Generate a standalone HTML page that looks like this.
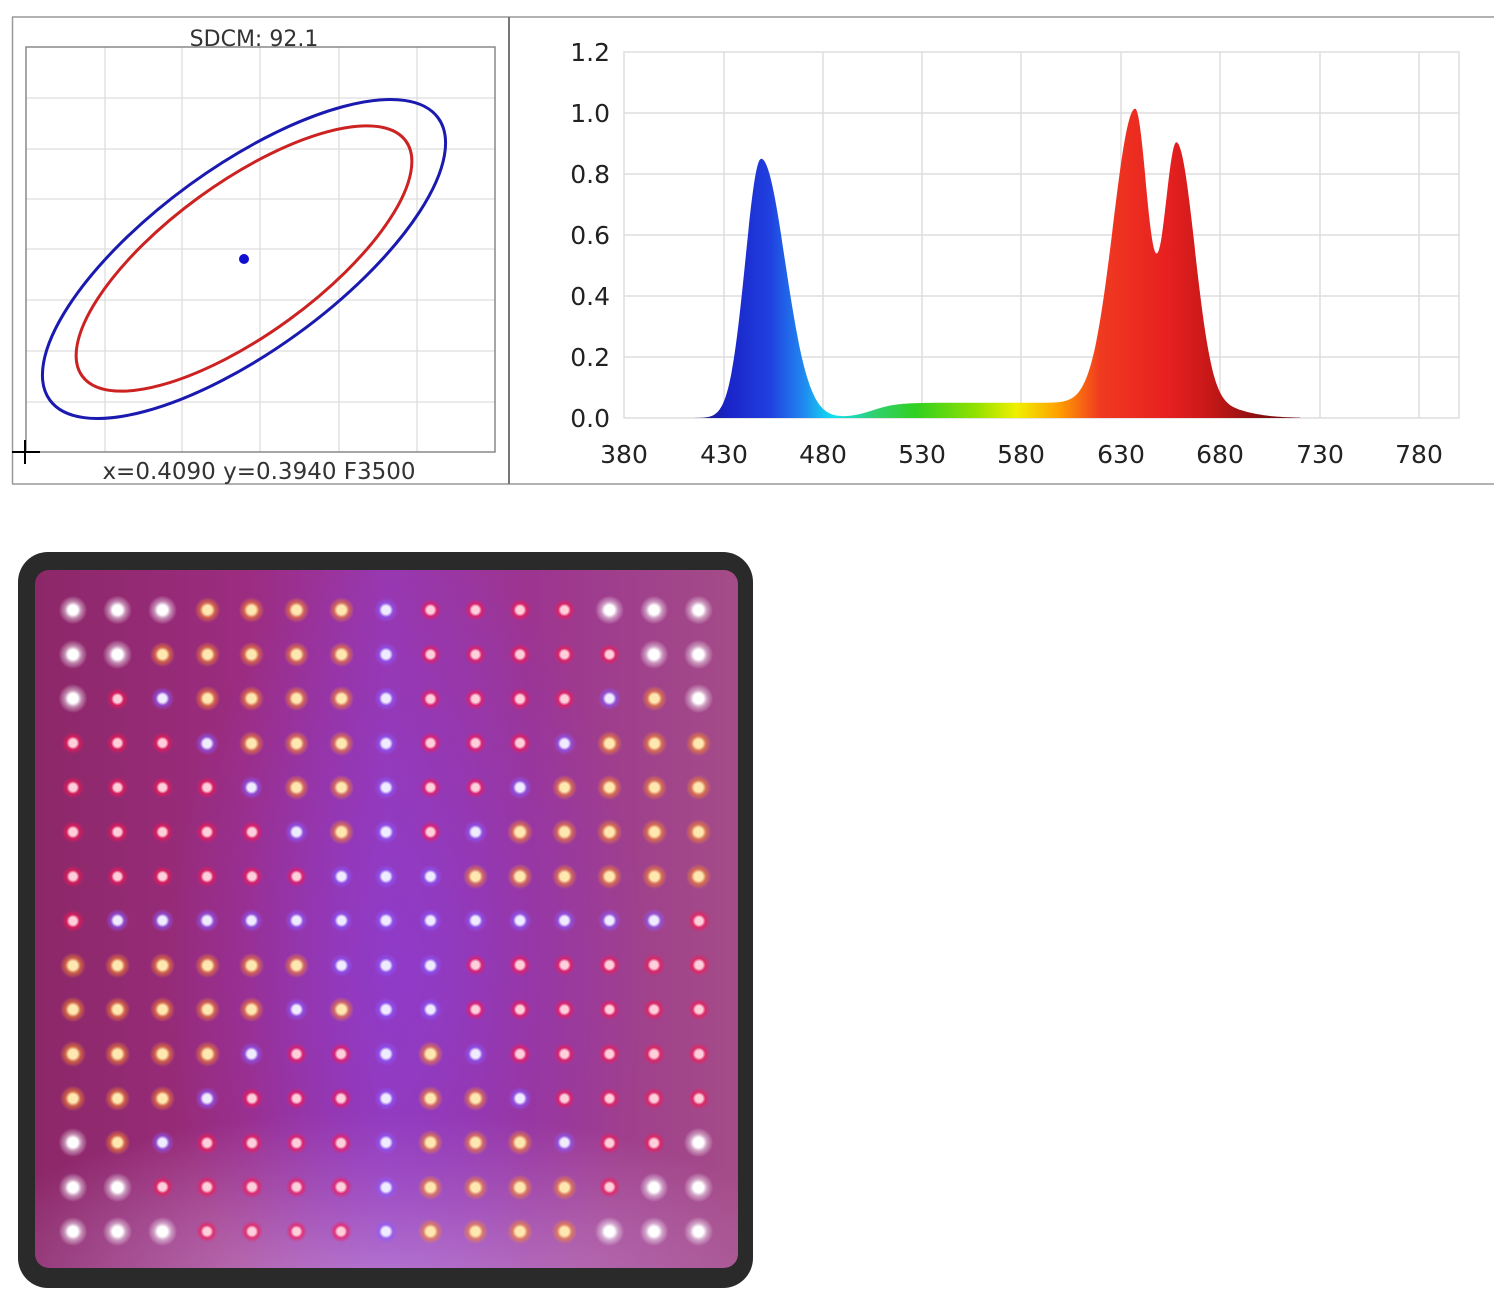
<!DOCTYPE html>
<html><head><meta charset="utf-8"><style>
html,body{margin:0;padding:0;background:#fff;}
body{width:1506px;height:1300px;position:relative;overflow:hidden;font-family:"DejaVu Sans","Liberation Sans",sans-serif;}
#panel{position:absolute;left:18px;top:552px;width:735px;height:736px;background:#2a2a2a;border-radius:30px;}
#inner{position:absolute;left:35px;top:570px;width:703px;height:698px;border-radius:14px;overflow:hidden;
background:
radial-gradient(ellipse 240px 420px at 370px 400px, rgba(140,60,210,0.75), rgba(140,60,210,0) 100%),
radial-gradient(ellipse 450px 180px at 350px 720px, rgba(210,170,225,0.7), rgba(210,170,225,0) 100%),
linear-gradient(90deg,#8c2868 0%,#9c2c80 30%,#9838b0 50%,#9c3490 70%,#a44c88 100%);}
.d{position:absolute;border-radius:50%;}
</style></head><body>
<svg width="1506" height="500" style="position:absolute;left:0;top:0">
<line x1="12" y1="17" x2="1494" y2="17" stroke="#999" stroke-width="1.5"/>
<line x1="12" y1="484" x2="1494" y2="484" stroke="#999" stroke-width="1.5"/>
<line x1="12.5" y1="17" x2="12.5" y2="484" stroke="#999" stroke-width="1.5"/>
<line x1="509" y1="17" x2="509" y2="484" stroke="#777" stroke-width="2"/>
<g stroke="#ddd" stroke-width="1.3">
<line x1="105" y1="47" x2="105" y2="452"/><line x1="182" y1="47" x2="182" y2="452"/><line x1="260" y1="47" x2="260" y2="452"/><line x1="339" y1="47" x2="339" y2="452"/><line x1="417" y1="47" x2="417" y2="452"/>
<line x1="26" y1="98" x2="495" y2="98"/><line x1="26" y1="149" x2="495" y2="149"/><line x1="26" y1="199" x2="495" y2="199"/><line x1="26" y1="249" x2="495" y2="249"/><line x1="26" y1="300" x2="495" y2="300"/><line x1="26" y1="351" x2="495" y2="351"/><line x1="26" y1="402" x2="495" y2="402"/>
</g>
<rect x="26" y="47" width="469" height="405" fill="none" stroke="#888" stroke-width="1.5"/>
<text x="254" y="46" font-size="22" text-anchor="middle" fill="#333">SDCM:  92.1</text>
<text x="259" y="479" font-size="23" text-anchor="middle" fill="#333">x=0.4090 y=0.3940 F3500</text>
<ellipse cx="244" cy="259" rx="240" ry="92" transform="rotate(-36 244 259)" fill="none" stroke="#1a1ab0" stroke-width="3"/>
<ellipse cx="244" cy="258.5" rx="200" ry="76" transform="rotate(-36 244 258.5)" fill="none" stroke="#cc2222" stroke-width="3"/>
<circle cx="244" cy="259" r="5" fill="#1010d0"/>
<line x1="25" y1="440" x2="25" y2="464" stroke="#000" stroke-width="2"/>
<line x1="12" y1="452" x2="40" y2="452" stroke="#000" stroke-width="2"/>
<defs><linearGradient id="sp" gradientUnits="userSpaceOnUse" x1="624" y1="0" x2="1459" y2="0">
<stop offset="0.075" stop-color="#151570"/>
<stop offset="0.125" stop-color="#1a24c8"/>
<stop offset="0.175" stop-color="#2040e0"/>
<stop offset="0.215" stop-color="#2088f0"/>
<stop offset="0.25" stop-color="#10e0f0"/>
<stop offset="0.3" stop-color="#30d070"/>
<stop offset="0.35" stop-color="#30d020"/>
<stop offset="0.42" stop-color="#90e000"/>
<stop offset="0.47" stop-color="#f0f000"/>
<stop offset="0.52" stop-color="#ffa000"/>
<stop offset="0.57" stop-color="#f03a20"/>
<stop offset="0.65" stop-color="#e82020"/>
<stop offset="0.70" stop-color="#c81818"/>
<stop offset="0.77" stop-color="#801010"/>
</linearGradient></defs>
<g stroke="#ddd" stroke-width="1.5">
<line x1="724" y1="52" x2="724" y2="418"/><line x1="823" y1="52" x2="823" y2="418"/><line x1="922" y1="52" x2="922" y2="418"/><line x1="1021" y1="52" x2="1021" y2="418"/><line x1="1121" y1="52" x2="1121" y2="418"/><line x1="1220" y1="52" x2="1220" y2="418"/><line x1="1320" y1="52" x2="1320" y2="418"/><line x1="1419" y1="52" x2="1419" y2="418"/>
<line x1="624" y1="113" x2="1459" y2="113"/><line x1="624" y1="174" x2="1459" y2="174"/><line x1="624" y1="235" x2="1459" y2="235"/><line x1="624" y1="296" x2="1459" y2="296"/><line x1="624" y1="357" x2="1459" y2="357"/>
</g>
<rect x="624" y="52" width="835" height="366" fill="none" stroke="#ddd" stroke-width="1.5"/>
<path id="spec" fill="url(#sp)"/>
<g font-size="25" fill="#222" text-anchor="end">
<text x="610" y="61">1.2</text><text x="610" y="122">1.0</text><text x="610" y="183">0.8</text><text x="610" y="244">0.6</text><text x="610" y="305">0.4</text><text x="610" y="366">0.2</text><text x="610" y="427">0.0</text>
</g>
<g font-size="25" fill="#222" text-anchor="middle">
<text x="624" y="463">380</text><text x="724" y="463">430</text><text x="823" y="463">480</text><text x="922" y="463">530</text><text x="1021" y="463">580</text><text x="1121" y="463">630</text><text x="1220" y="463">680</text><text x="1320" y="463">730</text><text x="1419" y="463">780</text>
</g>
</svg>
<div id="panel"></div>
<div id="inner"></div>
<script>
(function(){
function g(x,m,a,sl,sr){var s=x<m?sl:sr;var t=(x-m)/s;return a*Math.exp(-0.5*t*t);}
function f(x){
 var v=g(x,449,0.85,8,12)+g(x,637,0.96,11,6.5)+g(x,658,0.85,6.5,9);
 v+=0.05/(1+Math.exp(-(x-505)/6))/(1+Math.exp((x-690)/8));
 return v;}
var d="M"+(624+30*1.988)+",418";
for(var x=410;x<=720;x+=0.5){d+=" L"+(624+(x-380)*1.988).toFixed(1)+","+(418-f(x)*305).toFixed(1);}
d+=" L"+(624+340*1.988)+",418 Z";
document.getElementById('spec').setAttribute('d',d);
var rows=["WWWOOOOPRRRRWWW","WWOOOOOPRRRRRWW","WRPOOOOPRRRRPOW","RRRPOOOPRRRPOOO","RRRRPOOPRRPOOOO","RRRRRPOPRPOOOOO","RRRRRRPPPOOOOOO","RPPPPPPPPPPPPPR","OOOOOOPPPRRRRRR","OOOOOPOPPRRRRRR","OOOOPRRPOPRRRRR","OOOPRRRPOOPRRRR","WOPRRRRPOOOPRRW","WWRRRRRPOOOORWW","WWWRRRRPOOOOWWW"];
var col={W:["#ffffff","rgba(255,255,255,0.45)",8],O:["#ffe8b0","rgba(255,140,40,0.55)",7],R:["#ffd0dc","rgba(255,20,80,0.6)",6],P:["#f0ecff","rgba(140,90,255,0.6)",6.5]};
var h="";
for(var r=0;r<15;r++)for(var c=0;c<15;c++){
 var k=rows[r][c],cc=col[k],cx=73+c*44.7,cy=610+r*44.4,R=cc[2]*1.8;
 h+='<div class="d" style="left:'+(cx-R).toFixed(1)+'px;top:'+(cy-R).toFixed(1)+'px;width:'+(2*R).toFixed(1)+'px;height:'+(2*R).toFixed(1)+'px;background:radial-gradient(circle,'+cc[0]+' 0%,'+cc[0]+' 24%,'+cc[1]+' 42%,rgba(0,0,0,0) 72%)"></div>';
}
document.body.insertAdjacentHTML('beforeend',h);
})();
</script>
</body></html>
